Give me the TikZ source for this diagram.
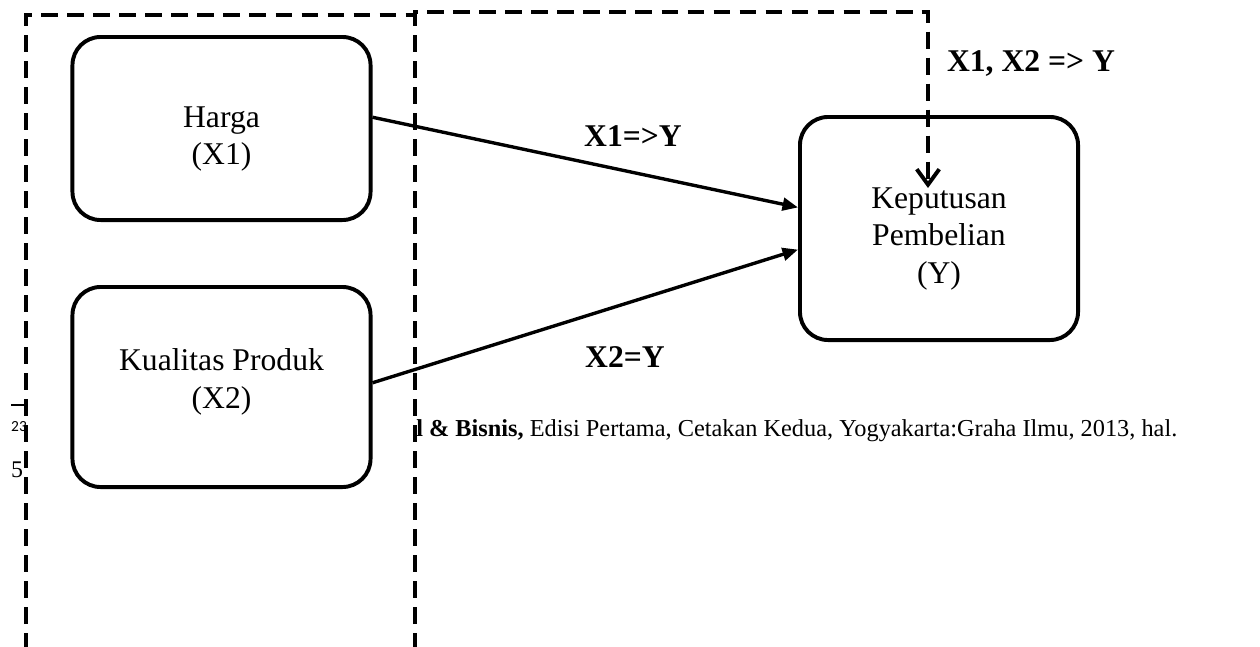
\documentclass[tikz,border=0pt]{standalone}
\usepackage{fontspec}
\setmainfont{Liberation Serif}
\newfontfamily\angkafont{Carlito}
\usepackage{tikz}
\usetikzlibrary{arrows.meta, positioning}

\begin{document}
\begin{tikzpicture}[x=0.025cm, y=-0.025cm,
    varbox/.style={draw, line width=2.8pt, rounded corners=20pt},
    vartext/.style={align=center, font=\fontsize{22.5}{27}\selectfont},
    relasi/.style={font=\fontsize{22.5}{27}\selectfont\bfseries},
    batas/.style={line width=2.8pt, dash pattern=on 12pt off 6.5pt}]
        \useasboundingbox (0,0) rectangle (1260,646);

        % kotak variabel
        \node[varbox, minimum width=7.45cm, minimum height=4.575cm] (harga) at (221.5,128.5) {};
        \node[vartext] (hargaT) at (221.5,139) {Harga\\(X1)};
        \node[varbox, minimum width=7.45cm, minimum height=5cm] (kualitas) at (221.5,387) {};
        \node[vartext] (kualitasT) at (221.5,382) {Kualitas Produk\\(X2)};
        \node[varbox, minimum width=6.95cm, minimum height=5.575cm] (keputusan) at (939,228.5) {};
        \node[vartext] (keputusanT) at (939,239) {Keputusan\\Pembelian\\(Y)};

        % garis putus-putus
        \coordinate (ujung) at (928,188);
        \draw[batas] (26,650) -- (26,15) -- (415,15);
        \draw[batas, -{Straight Barb[length=11pt, width=16pt]}] (415,650) -- (415,12) -- (928,12) -- (ujung);

        % panah pengaruh
        \draw[-{Triangle[length=11pt, width=9pt]}, line width=2.4pt] ([yshift=8pt]harga.east) -- ([yshift=15pt]keputusan.west);
        \draw[-{Triangle[length=11pt, width=9pt]}, line width=2.4pt] ([yshift=3pt]kualitas.east) -- ([yshift=-15pt]keputusan.west);

        \node[relasi] (r1) at (633,136) {X1=>Y};
        \node[relasi] (r2) at (625,357) {X2=Y};
        \node[relasi] (r3) at (1031,63) {X1, X2 => Y};

        % sisa catatan kaki
        \node[anchor=base west, inner sep=0, font=\fontsize{17.3}{19}\selectfont] (catatan) at (416,436) {\textbf{l \& Bisnis,} Edisi Pertama, Cetakan Kedua, Yogyakarta:Graha Ilmu, 2013, hal.};
        \draw[line width=1.4pt] (11,405) -- (26,405);
        \node[inner sep=0, font=\angkafont\fontsize{11}{12}\selectfont] (nomor) at (19,427) {23};
        \node[inner sep=0, anchor=base, font=\fontsize{17}{18}\selectfont] (halaman) at (17,477) {5};
\end{tikzpicture}
\end{document}
